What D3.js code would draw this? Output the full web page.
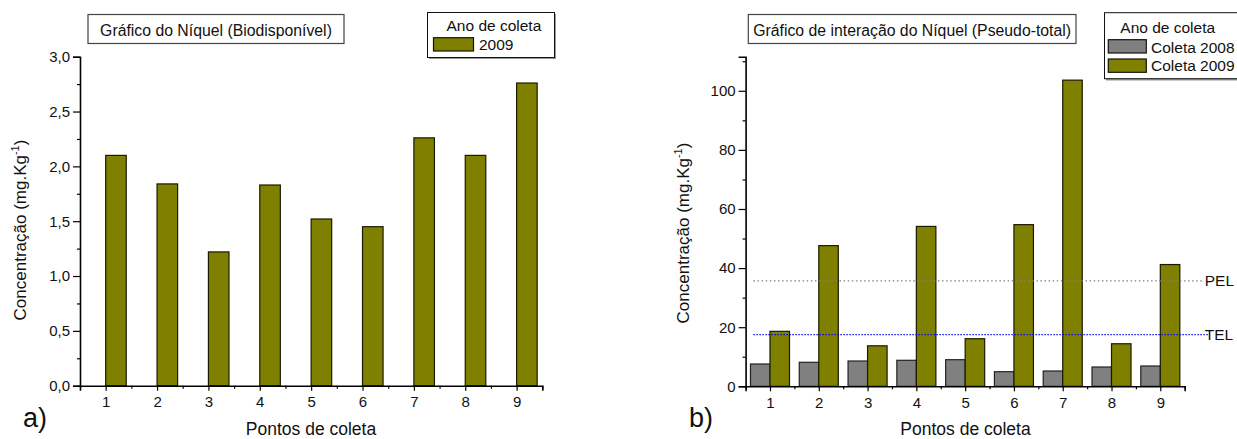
<!DOCTYPE html>
<html><head><meta charset="utf-8">
<script src="https://cdn.jsdelivr.net/npm/d3@7"></script>
<style>
html,body{margin:0;padding:0;background:#fff;}
svg, svg text{font-family:"Liberation Sans",Arial,sans-serif !important;}
svg{display:block;}
</style></head>
<body>
<svg id="c" width="1237" height="439"></svg>
<script>
// ---- data ----
const points = [1,2,3,4,5,6,7,8,9];
const bio2009 = [2.10,1.84,1.22,1.83,1.52,1.45,2.26,2.10,2.76];
const pseudo2008 = [7.55,8.12,8.56,8.8,9.0,4.94,5.18,6.53,6.87];
const pseudo2009 = [18.6,47.6,13.7,54.1,16.1,54.7,103.6,14.4,41.2];
const ticksA = [0,0.5,1.0,1.5,2.0,2.5,3.0];
const ticksALabels = ["0,0","0,5","1,0","1,5","2,0","2,5","3,0"];
const ticksB = [0,20,40,60,80,100];
const refLines = [{name:"PEL", value:35.7, color:"#808080"},{name:"TEL", value:17.5, color:"#0000ff"}];
const titleA = "Gráfico do Níquel (Biodisponível)";
const titleB = "Gráfico de interação do Níquel (Pseudo-total)";
const legendTitle = "Ano de coleta";
const legendA = ["2009"];
const legendB = ["Coleta 2008","Coleta 2009"];
const xLabel = "Pontos de coleta";

const OLIVE = "#808000", GRAY = "#808080";
const svg = d3.select("#c");
const BW = 0.4;

function drawAxes(g, x, y, yMajor, yFmt, yMinorStep, yMax, labelX) {
  const xa = g.append("g").attr("transform",`translate(0,${y(0)})`)
    .call(d3.axisBottom(x).tickValues(points).tickSize(5).tickPadding(6).tickFormat(d=>d));
  const halfs = d3.range(0.5, 10, 1);
  g.append("g").attr("transform",`translate(0,${y(0)})`)
    .call(d3.axisBottom(x).tickValues(halfs).tickSize(3).tickFormat(""))
    .call(a=>a.select(".domain").remove());
  const ya = g.append("g").attr("transform",`translate(${x.range()[0]},0)`)
    .call(d3.axisLeft(y).tickValues(yMajor).tickSize(7).tickPadding(3).tickFormat(yFmt));
  const minors = d3.range(0, yMax+1e-9, yMinorStep).filter(v=>!yMajor.some(m=>Math.abs(m-v)<1e-9));
  g.append("g").attr("transform",`translate(${x.range()[0]},0)`)
    .call(d3.axisLeft(y).tickValues(minors).tickSize(3).tickFormat(""))
    .call(a=>a.select(".domain").remove());
  g.selectAll(".domain").attr("stroke","#000").attr("stroke-width",1.6);
  g.selectAll(".tick line").attr("stroke","#000").attr("stroke-width",1.2);
  g.selectAll("g").attr("font-family",null).attr("font-size",null);
  ya.selectAll(".tick text").style("font-size","15px").attr("fill","#111");
  xa.selectAll(".tick text").style("font-size","15px").attr("fill","#111");
  g.append("text").attr("x",labelX).attr("y",435).attr("text-anchor","middle")
    .style("font-size","17.5px").attr("fill","#111").text(xLabel);
}

function yTitle(g, cx, cy) {
  const t = g.append("text").attr("transform",`translate(${cx},${cy}) rotate(-90)`)
    .attr("text-anchor","middle").style("font-size","17px").attr("fill","#111");
  t.append("tspan").text("Concentração (mg.Kg");
  t.append("tspan").style("font-size","11px").attr("dy",-7).text("-1");
  t.append("tspan").attr("dy",7).text(")");
}

function titleBox(g, x0, x1, text) {
  g.append("rect").attr("x",x0).attr("y",14.5).attr("width",x1-x0).attr("height",29)
    .attr("fill","#fff").attr("stroke","#444").attr("stroke-width",1.2);
  g.append("text").attr("x",(x0+x1)/2).attr("y",35.5).attr("text-anchor","middle")
    .style("font-size","15.8px").attr("fill","#111").text(text);
}

// ================= Chart a =================
const gA = svg.append("g");
const xA = d3.scaleLinear().domain([0.5,9.5]).range([80,542.3]);
const yA = d3.scaleLinear().domain([0,3]).range([385.7,56.7]);
gA.selectAll("rect.bar").data(points).join("rect").attr("class","bar")
  .attr("x",d=>xA(d)).attr("width",d=>xA(d+BW)-xA(d))
  .attr("y",(d,i)=>yA(bio2009[i])).attr("height",(d,i)=>yA(0)-yA(bio2009[i]))
  .attr("fill",OLIVE).attr("stroke","#1a1a00").attr("stroke-width",1.2);
drawAxes(gA, xA, yA, ticksA, (d,i)=>ticksALabels[i], 0.25, 3, 311);
yTitle(gA, 26, 230);
titleBox(gA, 88, 344, titleA);
gA.append("text").attr("x",23).attr("y",427).style("font-size","27px").attr("fill","#111").text("a)");
// legend a
gA.append("rect").attr("x",429).attr("y",14).attr("width",127).attr("height",45).attr("fill","#999");
gA.append("rect").attr("x",427.5).attr("y",12.5).attr("width",127).attr("height",45)
  .attr("fill","#fff").attr("stroke","#111").attr("stroke-width",1);
gA.append("text").attr("x",446.5).attr("y",31).style("font-size","15.5px").attr("fill","#111").text(legendTitle);
gA.selectAll("rect.lgA").data(legendA).join("rect").attr("class","lgA")
  .attr("x",433.5).attr("y",(d,i)=>37.7+i*19).attr("width",40).attr("height",13.3)
  .attr("fill",OLIVE).attr("stroke","#111").attr("stroke-width",1.2);
gA.selectAll("text.lgA").data(legendA).join("text").attr("class","lgA")
  .attr("x",479).attr("y",(d,i)=>50+i*19).style("font-size","15.5px").attr("fill","#111").text(d=>d);

// ================= Chart b =================
const gB = svg.append("g");
const xB = d3.scaleLinear().domain([0.5,9.5]).range([745.6,1184.7]);
const yB = d3.scaleLinear().domain([0,111.5]).range([386.3,56.8]);
gB.selectAll("rect.b08").data(points).join("rect").attr("class","b08")
  .attr("x",d=>xB(d-BW)).attr("width",d=>xB(d)-xB(d-BW))
  .attr("y",(d,i)=>yB(pseudo2008[i])).attr("height",(d,i)=>yB(0)-yB(pseudo2008[i]))
  .attr("fill",GRAY).attr("stroke","#222").attr("stroke-width",1.2);
gB.selectAll("rect.b09").data(points).join("rect").attr("class","b09")
  .attr("x",d=>xB(d)).attr("width",d=>xB(d+BW)-xB(d))
  .attr("y",(d,i)=>yB(pseudo2009[i])).attr("height",(d,i)=>yB(0)-yB(pseudo2009[i]))
  .attr("fill",OLIVE).attr("stroke","#1a1a00").attr("stroke-width",1.2);
// reference lines
refLines.forEach((r,i)=>{
  gB.append("line").attr("x1",xB(0.66)).attr("x2",xB(i===0?9.89:9.99))
    .attr("y1",yB(r.value)).attr("y2",yB(r.value))
    .attr("stroke",r.color).attr("stroke-width",1.3).attr("stroke-dasharray",i===0?"1.5,2.6":"1.4,1.6");
  gB.append("text").attr("x",xB(9.91)).attr("y",yB(r.value)+5.5)
    .style("font-size","15.5px").attr("fill","#111").text(r.name);
});
drawAxes(gB, xB, yB, ticksB, d=>d, 10, 111, 965.5);
yTitle(gB, 689, 233);
titleBox(gB, 748.3, 1076, titleB);
gB.append("text").attr("x",689).attr("y",427).style("font-size","27px").attr("fill","#111").text("b)");
// legend b
gB.append("rect").attr("x",1106).attr("y",14.5).attr("width",140).attr("height",66).attr("fill","#999");
gB.append("rect").attr("x",1104.5).attr("y",12.7).attr("width",140).attr("height",66)
  .attr("fill","#fff").attr("stroke","#111").attr("stroke-width",1);
gB.append("text").attr("x",1120.3).attr("y",33).style("font-size","15.5px").attr("fill","#111").text(legendTitle);
const lgCol = [GRAY, OLIVE];
gB.selectAll("rect.lgB").data(legendB).join("rect").attr("class","lgB")
  .attr("x",1108.3).attr("y",(d,i)=>39.7+i*19.3).attr("width",38).attr("height",13.3)
  .attr("fill",(d,i)=>lgCol[i]).attr("stroke","#111").attr("stroke-width",1.2);
gB.selectAll("text.lgB").data(legendB).join("text").attr("class","lgB")
  .attr("x",1151).attr("y",(d,i)=>52.5+i*18.8).style("font-size","15.5px").attr("fill","#111").text(d=>d);
</script>
</body></html>
